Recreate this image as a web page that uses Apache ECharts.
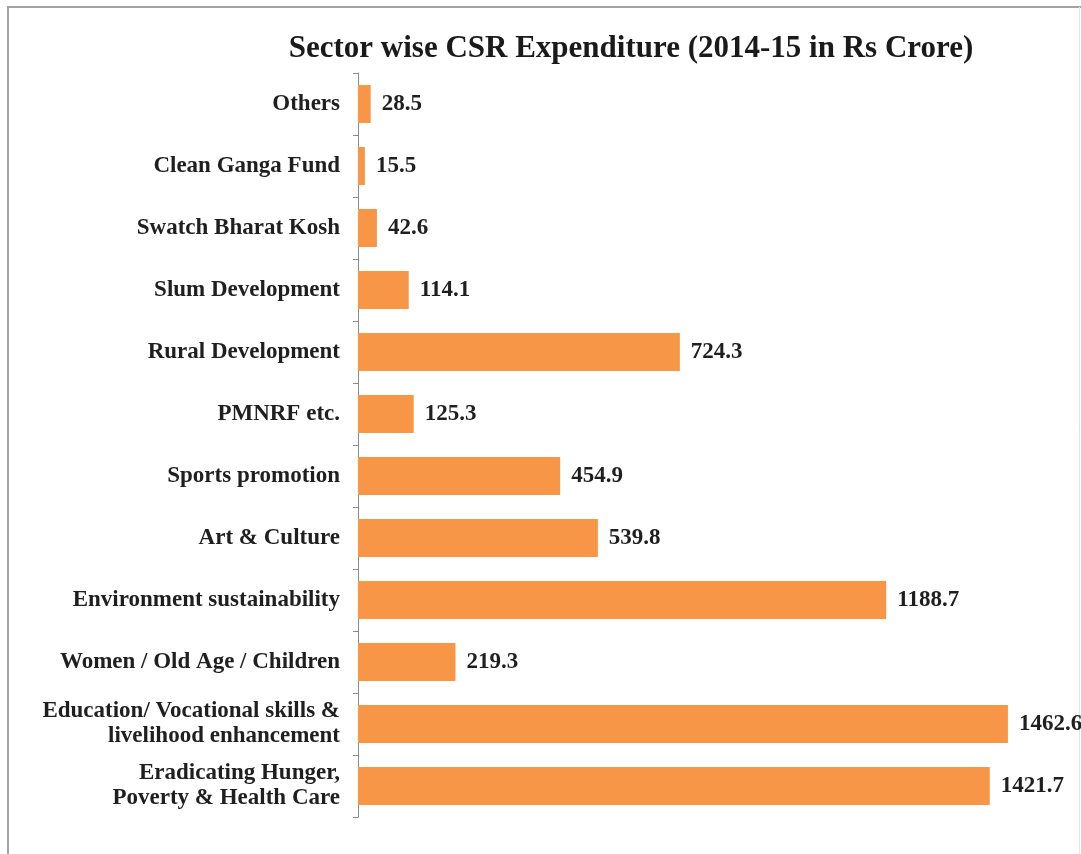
<!DOCTYPE html>
<html>
<head>
<meta charset="utf-8">
<script src="https://cdn.jsdelivr.net/npm/echarts@6/dist/echarts.min.js"></script>
<style>html,body{margin:0;padding:0;background:#fff}#c{width:1081px;height:854px}</style>
</head>
<body>
<div id="c"></div>
<script>
const titleText = 'Sector wise CSR Expenditure (2014-15 in Rs Crore)';
const categories = [
  'Others',
  'Clean Ganga Fund',
  'Swatch Bharat Kosh',
  'Slum Development',
  'Rural Development',
  'PMNRF etc.',
  'Sports promotion',
  'Art & Culture',
  'Environment sustainability',
  'Women / Old Age / Children',
  'Education/ Vocational skills &\nlivelihood enhancement',
  'Eradicating Hunger,\nPoverty & Health Care'
];
const values = [28.5, 15.5, 42.6, 114.1, 724.3, 125.3, 454.9, 539.8, 1188.7, 219.3, 1462.6, 1421.7];

const chart = echarts.init(document.getElementById('c'));
const serif = '"Liberation Serif", "DejaVu Serif", serif';
chart.setOption({
  backgroundColor: '#ffffff',
  animation: false,
  title: {
    text: titleText,
    left: 626,
    textAlign: 'center',
    top: 28,
    textStyle: { fontFamily: serif, fontWeight: 'bold', fontSize: 31, color: '#1a1a1a' }
  },
  graphic: [
    { type: 'polyline', shape: { points: [[8, 900], [8, 7], [1081, 7]] }, style: { stroke: '#a3a3a3', lineWidth: 2, fill: null }, silent: true },
    { type: 'line', shape: { x1: 1079.5, y1: 7, x2: 1079.5, y2: 854 }, style: { stroke: '#e4e4e4', lineWidth: 1 }, silent: true }
  ],
  grid: { left: 358, top: 73, bottom: 37, width: 711, containLabel: false },
  xAxis: {
    type: 'value', min: 0, max: 1600,
    axisLine: { show: false }, axisTick: { show: false }, axisLabel: { show: false }, splitLine: { show: false }
  },
  yAxis: {
    type: 'category',
    inverse: true,
    data: categories,
    axisLine: { show: true, lineStyle: { color: '#8c8c8c', width: 1 } },
    axisTick: { show: true, length: 5, lineStyle: { color: '#8c8c8c' } },
    axisLabel: {
      margin: 18, fontFamily: serif, fontWeight: 'bold', fontSize: 23, color: '#1f1f1f',
      lineHeight: 25, align: 'right'
    }
  },
  series: [{
    type: 'bar',
    data: values,
    barWidth: 38,
    itemStyle: { color: '#F79646' },
    label: {
      show: true, position: 'right', distance: 11,
      fontFamily: serif, fontWeight: 'bold', fontSize: 23, color: '#1f1f1f',
      formatter: p => p.value.toFixed(1)
    }
  }]
});
</script>
</body>
</html>
